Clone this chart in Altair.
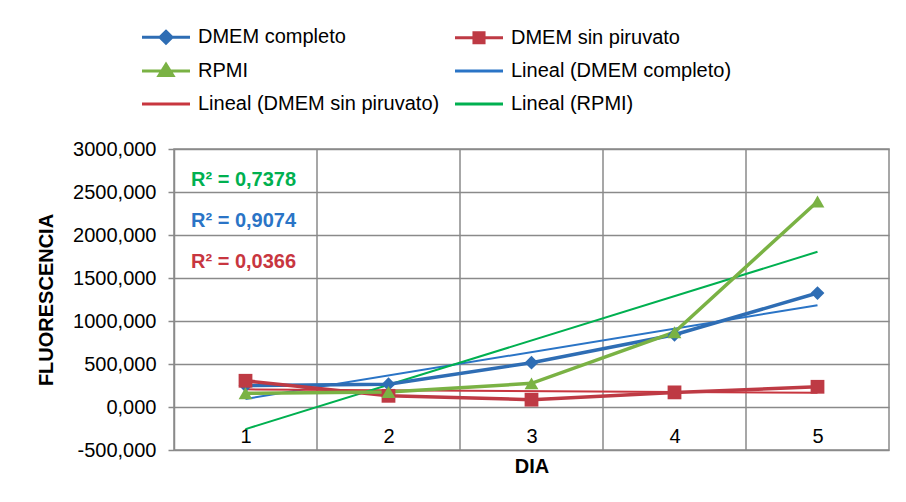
import altair as alt
import pandas as pd

# ---- data ----
days = [1, 2, 3, 4, 5]
series_names = ["DMEM completo", "DMEM sin piruvato", "RPMI"]
dmem_completo = [250, 265, 515, 840, 1325]
dmem_sin_piruvato = [305, 130, 85, 170, 235]
rpmi = [160, 175, 275, 870, 2390]
trend_names = ["Lineal (DMEM completo)", "Lineal (DMEM sin piruvato)", "Lineal (RPMI)"]
r2_trend = ["Lineal (RPMI)", "Lineal (DMEM completo)", "Lineal (DMEM sin piruvato)"]
r2_text = ["R² = 0,7378", "R² = 0,9074", "R² = 0,0366"]
y_ticks = [-500, 0, 500, 1000, 1500, 2000, 2500, 3000]

series_colors = ["#2E6DB4", "#BE3A44", "#7AB244"]
trend_colors = ["#2A74C6", "#C8363F", "#00B050"]
legend_names = series_names + trend_names
legend_colors = series_colors + trend_colors
legend_paths = [
    "M-2,0H2M0,-0.5L0.5,0L0,0.5L-0.5,0Z",
    "M-2,0H2M-0.42,-0.42H0.42V0.42H-0.42Z",
    "M-2,0H2M0,-0.56L0.58,0.38H-0.58Z",
    "M-2,0H2",
    "M-2,0H2",
    "M-2,0H2",
]
marker_shapes = ["diamond", "square", "triangle-up"]

values = {"DMEM completo": dmem_completo, "DMEM sin piruvato": dmem_sin_piruvato, "RPMI": rpmi}
df = pd.DataFrame(
    [{"dia": d, "fluo": v, "serie": s} for s in series_names for d, v in zip(days, values[s])]
)
bounds_df = pd.DataFrame({"b": [d + 0.5 for d in days[:-1]]})
legend_df = pd.DataFrame({"name": legend_names})

FONT = "Liberation Sans"
GRID = "#8A8A8A"

color_scale = alt.Scale(domain=legend_names, range=legend_colors)

x_scale = alt.Scale(domain=[0.5, 5.5], nice=False, zero=False)
x_axis = alt.Axis(
    values=days, format="d", grid=False, domain=False, ticks=False,
    offset=-43.5, labelPadding=20, labelFontSize=20, labelColor="#000000",
    title="DIA", titleFontSize=20, titleFontWeight="bold", titleColor="#000000",
    titlePadding=10,
)
y_scale = alt.Scale(domain=[-500, 3000], nice=False, zero=False)
y_axis = alt.Axis(
    values=y_ticks, grid=True, gridColor=GRID, gridWidth=1.5,
    domainColor=GRID, domainWidth=1.5, tickColor=GRID, tickWidth=1.5, tickSize=6,
    labelFontSize=20, labelColor="#000000", labelPadding=12,
    labelExpr="(datum.value < 0 ? '-' : '') + replace(format(abs(datum.value), '.3f'), '.', ',')",
    title="FLUORESCENCIA", titleFontSize=20, titleFontWeight="bold", titleColor="#000000",
    titlePadding=16,
)


def X(field):
    return alt.X(field, type="quantitative", scale=x_scale, axis=x_axis)


def Y(field):
    return alt.Y(field, type="quantitative", scale=y_scale, axis=y_axis)


rules = alt.Chart(bounds_df).mark_rule(color=GRID, strokeWidth=1.5).encode(x=X("b"))

trend = (
    alt.Chart(df)
    .transform_regression("dia", "fluo", groupby=["serie"])
    .transform_calculate(tname="'Lineal (' + datum.serie + ')'")
    .mark_line(strokeWidth=2)
    .encode(
        x=X("dia"), y=Y("fluo"),
        color=alt.Color("tname:N", scale=color_scale, legend=None),
        detail="tname:N",
    )
)

lines = alt.Chart(df).mark_line(strokeWidth=3.5).encode(
    x=X("dia"), y=Y("fluo"),
    color=alt.Color("serie:N", scale=color_scale, legend=None),
)

points = []
for name, shp in zip(series_names, marker_shapes):
    points.append(
        alt.Chart(df)
        .transform_filter(alt.datum.serie == name)
        .mark_point(filled=True, opacity=1, shape=shp, size=190)
        .encode(
            x=X("dia"), y=Y("fluo"),
            color=alt.Color("serie:N", scale=color_scale, legend=None),
        )
    )

texts = []
for i, (tn, tx) in enumerate(zip(r2_trend, r2_text)):
    tdf = pd.DataFrame({"tname": [tn], "label": [tx]})
    texts.append(
        alt.Chart(tdf)
        .mark_text(align="left", baseline="middle", fontSize=20, fontWeight="bold", font=FONT)
        .encode(
            x=alt.value(17), y=alt.value(31 + 41 * i),
            text="label:N",
            color=alt.Color("tname:N", scale=color_scale, legend=None),
        )
    )

leg = alt.Legend(
    title=None, orient="none", legendX=-21.5, legendY=-125.5, columns=2,
    direction="horizontal",
    symbolSize=576, symbolStrokeWidth=3, labelFontSize=20, labelFont=FONT,
    labelColor="#000000", labelOffset=18.5, labelLimit=400, rowPadding=8,
    columnPadding=9, symbolOpacity=1,
)
legend_layer = (
    alt.Chart(legend_df)
    .mark_point(filled=True, opacity=0)
    .encode(
        fill=alt.Fill("name:N", scale=alt.Scale(domain=legend_names, range=legend_colors), legend=leg),
        stroke=alt.Stroke("name:N", scale=alt.Scale(domain=legend_names, range=legend_colors), legend=leg),
        shape=alt.Shape("name:N", scale=alt.Scale(domain=legend_names, range=legend_paths), legend=leg),
    )
)

chart = (
    alt.layer(legend_layer, rules, trend, lines, *points, *texts)
    .properties(
        width=715, height=301,
        autosize=alt.AutoSizeParams(type="none"),
        padding={"left": 166, "top": 141, "right": 9, "bottom": 44},
    )
    .configure(font=FONT)
    .configure_view(stroke=GRID, strokeWidth=1.5)
)

chart.save("out.html", embed_options={"renderer": "svg", "actions": False})
